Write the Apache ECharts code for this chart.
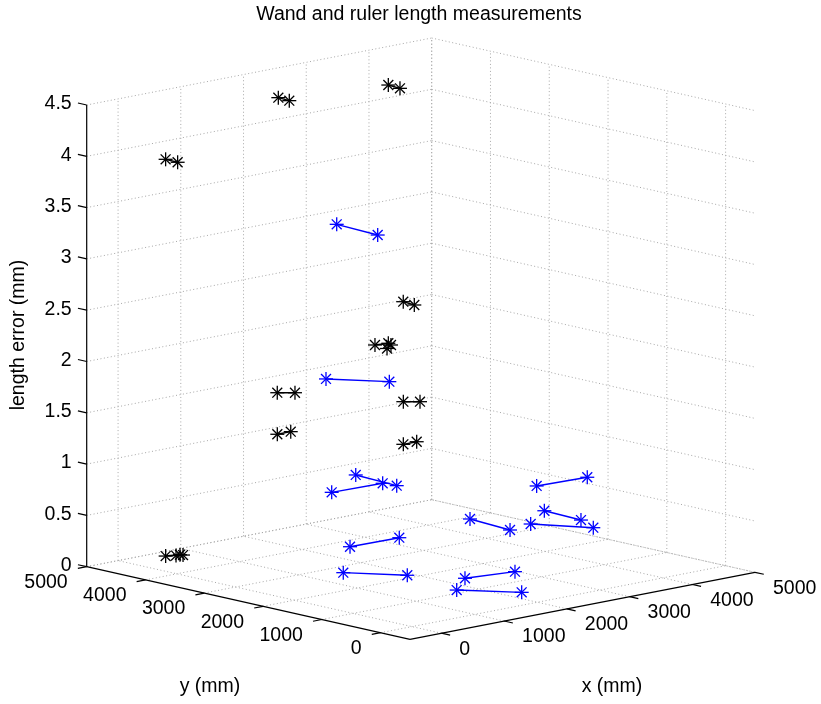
<!DOCTYPE html>
<html>
<head>
<meta charset="utf-8">
<title>Wand and ruler length measurements</title>
<script src="https://cdn.jsdelivr.net/npm/echarts@6/dist/echarts.min.js"></script>
<style>
  html, body { margin: 0; padding: 0; background: #fff; }
  #chart { width: 821px; height: 704px; }
</style>
</head>
<body>
<div id="chart"></div>
<script>
// axis limits and ticks (mm, mm, mm)
const xLim = [-500, 5000];
const yLim = [-500, 5000];
const zLim = [0, 4.5];
const xTicks = [0, 1000, 2000, 3000, 4000, 5000];
const yTicks = [0, 1000, 2000, 3000, 4000, 5000];
const zTicks = [0, 0.5, 1, 1.5, 2, 2.5, 3, 3.5, 4, 4.5];

// wand measurements (black): both ends + length error
const wandX1 = [60, 1808, 3034, 2530, 1812, 1782, 1849, 722, 703, 1788, 190, 298];
const wandY1 = [4255, 4203, 3640, 2848, 2563, 2326, 2120, 3062, 3041, 2055, 4393, 4332];
const wandX2 = [50, 1788, 3008, 2499, 1991, 1949, 1991, 873, 917, 2001, 362, 377];
const wandY2 = [4040, 3995, 3414, 2627, 2527, 2437, 1988, 2922, 3041, 2055, 4333, 4297];
const wandErr = [4.0, 4.4, 4.45, 2.5, 2.2, 2.2, 1.7, 1.8, 1.4, 1.3, 0.1, 0.1];

// ruler measurements (blue)
const rulerX1 = [1782, 1272, 1301, 1777, 1340, 1271, 2905, 3199, 2968, 2640, 2098, 1696];
const rulerY1 = [3182, 2820, 2754, 2853, 2484, 2525, 979, 1162, 1148, 1830, 1337, 1049];
const rulerX2 = [1725, 1710, 2080, 1720, 2104, 1719, 3669, 3158, 3363, 2563, 2777, 2164];
const rulerY2 = [2424, 2210, 2718, 2095, 2461, 1914, 933, 495, 504, 1067, 1211, 443];
const rulerErr = [3.3, 1.9, 0.8, 0.9, 0.3, 0.05, 0.9, 0.6, 0.5, 0.5, 0.05, 0.02];

const FONT = '19.5px "Liberation Sans", Arial, Helvetica, sans-serif';

// view of the 3d box: front-bottom corner and the edge vectors of the box (screen units)
const view = { ox: 410, oy: 639.3, ex: [345, -67], ey: [-323.3, -72.6], ez: [0, -461.7] };

function project(x, y, z) {
  const fx = (x - xLim[0]) / (xLim[1] - xLim[0]);
  const fy = (y - yLim[0]) / (yLim[1] - yLim[0]);
  const fz = (z - zLim[0]) / (zLim[1] - zLim[0]);
  return [
    view.ox + fx * view.ex[0] + fy * view.ey[0] + fz * view.ez[0],
    view.oy + fx * view.ex[1] + fy * view.ey[1] + fz * view.ez[1]
  ];
}

// grid + axis segments: [x1,y1,z1,x2,y2,z2,solid]
const segs = [];
xTicks.forEach(t => {
  segs.push([t, yLim[0], 0, t, yLim[1], 0, 0]);        // floor
  segs.push([t, yLim[1], zLim[0], t, yLim[1], zLim[1], 0]); // back-left wall
});
yTicks.forEach(t => {
  segs.push([xLim[0], t, 0, xLim[1], t, 0, 0]);
  segs.push([xLim[1], t, zLim[0], xLim[1], t, zLim[1], 0]);
});
zTicks.forEach(t => {
  segs.push([xLim[0], yLim[1], t, xLim[1], yLim[1], t, 0]);
  segs.push([xLim[1], yLim[1], t, xLim[1], yLim[0], t, 0]);
});
// axes
segs.push([xLim[0], yLim[0], 0, xLim[1], yLim[0], 0, 1]);
segs.push([xLim[0], yLim[0], 0, xLim[0], yLim[1], 0, 1]);
segs.push([xLim[0], yLim[1], zLim[0], xLim[0], yLim[1], zLim[1], 1]);

function unit(v) { const l = Math.hypot(v[0], v[1]); return [v[0] / l, v[1] / l]; }
const dirNegY = unit([-view.ey[0], -view.ey[1]]);
const dirNegX = unit([-view.ex[0], -view.ex[1]]);
const dirPosY = unit(view.ey);
const TICK = 9;

function segItem(params, api) {
  const a = api.coord(project(api.value(0), api.value(1), api.value(2)));
  const b = api.coord(project(api.value(3), api.value(4), api.value(5)));
  const solid = api.value(6) === 1;
  return {
    type: 'line',
    shape: { x1: a[0], y1: a[1], x2: b[0], y2: b[1] },
    style: solid ? { stroke: '#000', lineWidth: 1.2 } : { stroke: '#a8a8a8', lineWidth: 1, lineDash: [1, 2.5] }
  };
}

function tickItem(axis) {
  return function (params, api) {
    const t = api.value(0);
    let p, dir, tx, ty, align;
    if (axis === 'x') {
      p = api.coord(project(t, yLim[0], 0)); dir = dirNegY;
      tx = p[0] + 18; ty = p[1] + 16; align = 'left';
    } else if (axis === 'y') {
      p = api.coord(project(xLim[0], t, 0)); dir = dirNegX;
      tx = p[0] - 19; ty = p[1] + 16; align = 'right';
    } else {
      p = api.coord(project(xLim[0], yLim[1], t)); dir = dirPosY;
      tx = p[0] - 15; ty = p[1] - 1; align = 'right';
    }
    return {
      type: 'group',
      children: [
        { type: 'line', shape: { x1: p[0], y1: p[1], x2: p[0] + dir[0] * TICK, y2: p[1] + dir[1] * TICK },
          style: { stroke: '#000', lineWidth: 1.2 } },
        { type: 'text', x: tx, y: ty,
          style: { text: String(t), font: FONT, fill: '#000', align: align, verticalAlign: 'middle' } }
      ]
    };
  };
}

function starChildren(c, color) {
  const r = 7, d = r * 0.7071;
  const st = { stroke: color, lineWidth: 1.3 };
  return [
    { type: 'line', shape: { x1: c[0] - r, y1: c[1], x2: c[0] + r, y2: c[1] }, style: st },
    { type: 'line', shape: { x1: c[0], y1: c[1] - r, x2: c[0], y2: c[1] + r }, style: st },
    { type: 'line', shape: { x1: c[0] - d, y1: c[1] - d, x2: c[0] + d, y2: c[1] + d }, style: st },
    { type: 'line', shape: { x1: c[0] - d, y1: c[1] + d, x2: c[0] + d, y2: c[1] - d }, style: st }
  ];
}

function pairItem(color) {
  return function (params, api) {
    const z = api.value(4);
    const a = api.coord(project(api.value(0), api.value(1), z));
    const b = api.coord(project(api.value(2), api.value(3), z));
    return {
      type: 'group',
      children: [
        { type: 'line', shape: { x1: a[0], y1: a[1], x2: b[0], y2: b[1] }, style: { stroke: color, lineWidth: 1.4 } }
      ].concat(starChildren(a, color), starChildren(b, color))
    };
  };
}

const wandData = wandX1.map((v, i) => [v, wandY1[i], wandX2[i], wandY2[i], wandErr[i]]);
const rulerData = rulerX1.map((v, i) => [v, rulerY1[i], rulerX2[i], rulerY2[i], rulerErr[i]]);

const chart = echarts.init(document.getElementById('chart'));
chart.setOption({
  animation: false,
  backgroundColor: '#fff',
  grid: { left: 0, right: 0, top: 0, bottom: 0 },
  xAxis: { type: 'value', min: 0, max: 821, show: false },
  yAxis: { type: 'value', min: 0, max: 704, inverse: true, show: false },
  graphic: [
    { type: 'text', x: 419, y: 15, style: { text: 'Wand and ruler length measurements', font: FONT, fill: '#000', align: 'center', verticalAlign: 'middle' } },
    { type: 'text', x: 19, y: 335, rotation: Math.PI / 2, style: { text: 'length error (mm)', font: FONT, fill: '#000', align: 'center', verticalAlign: 'middle' } },
    { type: 'text', x: 210, y: 687, style: { text: 'y (mm)', font: FONT, fill: '#000', align: 'center', verticalAlign: 'middle' } },
    { type: 'text', x: 612, y: 687, style: { text: 'x (mm)', font: FONT, fill: '#000', align: 'center', verticalAlign: 'middle' } }
  ],
  series: [
    { type: 'custom', silent: true, renderItem: segItem, data: segs },
    { type: 'custom', silent: true, renderItem: tickItem('x'), data: xTicks.map(t => [t]) },
    { type: 'custom', silent: true, renderItem: tickItem('y'), data: yTicks.map(t => [t]) },
    { type: 'custom', silent: true, renderItem: tickItem('z'), data: zTicks.map(t => [t]) },
    { type: 'custom', name: 'wand', silent: true, renderItem: pairItem('#000000'), data: wandData },
    { type: 'custom', name: 'ruler', silent: true, renderItem: pairItem('#0000ff'), data: rulerData }
  ]
});
</script>
</body>
</html>
